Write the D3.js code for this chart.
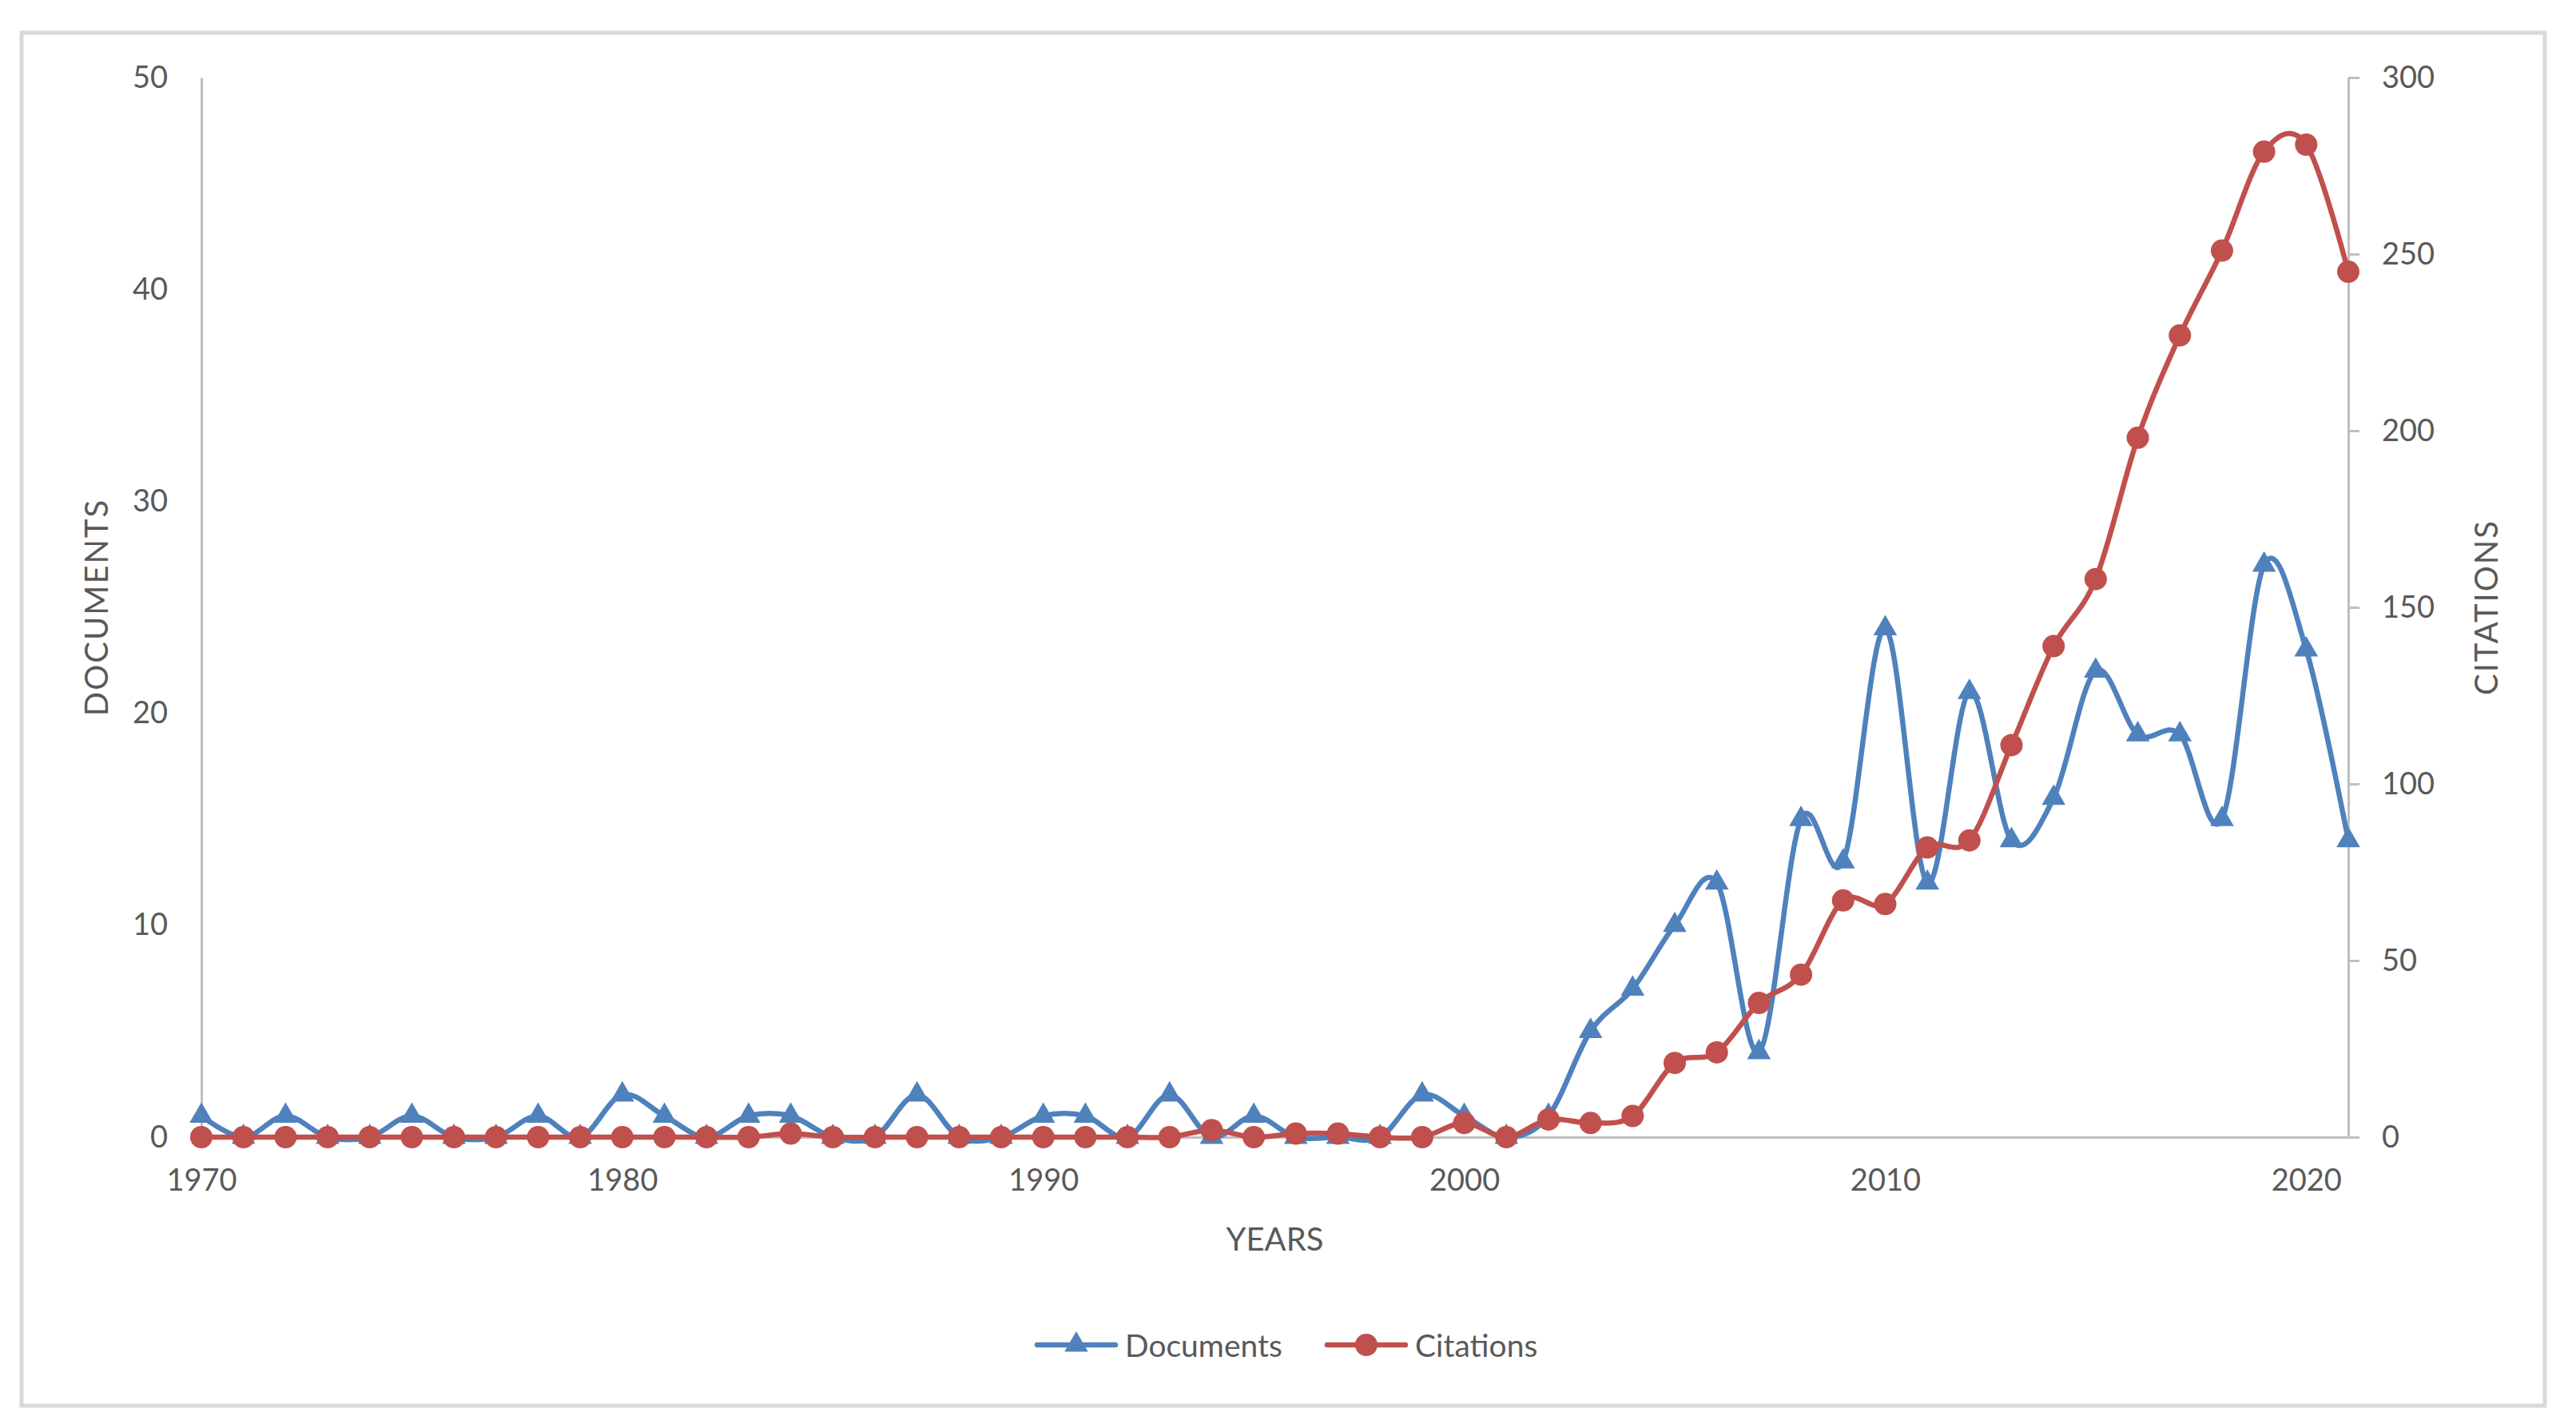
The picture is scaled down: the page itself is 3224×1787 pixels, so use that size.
<!DOCTYPE html>
<html>
<head>
<meta charset="utf-8">
<script src="https://cdn.jsdelivr.net/npm/d3@7"></script>
<style>
  body { margin: 0; background: #fff; }
  text { font-family: Lato, "Open Sans", sans-serif; fill: #595959; }
</style>
</head>
<body>
<svg id="chart" width="3224" height="1787"></svg>
<script>
// years on the x axis
const years = [1970, 1971, 1972, 1973, 1974, 1975, 1976, 1977, 1978, 1979,
               1980, 1981, 1982, 1983, 1984, 1985, 1986, 1987, 1988, 1989,
               1990, 1991, 1992, 1993, 1994, 1995, 1996, 1997, 1998, 1999,
               2000, 2001, 2002, 2003, 2004, 2005, 2006, 2007, 2008, 2009,
               2010, 2011, 2012, 2013, 2014, 2015, 2016, 2017, 2018, 2019,
               2020, 2021];

// documents per year (left axis)
const documents = [1, 0, 1, 0, 0, 1, 0, 0, 1, 0,
                   2, 1, 0, 1, 1, 0, 0, 2, 0, 0,
                   1, 1, 0, 2, 0, 1, 0, 0, 0, 2,
                   1, 0, 1, 5, 7, 10, 12, 4, 15, 13,
                   24, 12, 21, 14, 16, 22, 19, 19, 15, 27,
                   23, 14];

// citations per year (right axis)
const citations = [0, 0, 0, 0, 0, 0, 0, 0, 0, 0,
                   0, 0, 0, 0, 1, 0, 0, 0, 0, 0,
                   0, 0, 0, 0, 2, 0, 1, 1, 0, 0,
                   4, 0, 5, 4, 6, 21, 24, 38, 46, 67,
                   66, 82, 84, 111, 139, 158, 198, 227, 251, 279,
                   281, 245];

const xTicks = [1970, 1980, 1990, 2000, 2010, 2020];
const docTicks = [0, 10, 20, 30, 40, 50];
const citTicks = [0, 50, 100, 150, 200, 250, 300];

const blue = '#4F81BD';
const red = '#C0504D';
const axisGrey = '#BFBFBF';

let svg = d3.select('#chart');
let margin = { top: 97, right: 285, bottom: 364, left: 252 };
let width = 3224, height = 1787;

// outer frame
svg.append('rect')
    .attr('x', 27).attr('y', 41)
    .attr('width', 3158).attr('height', 1718)
    .attr('fill', 'white')
    .attr('stroke', '#D9D9D9')
    .attr('stroke-width', 5);

// scales
const x = d3.scaleLinear().domain([1970, 2021]).range([margin.left, width - margin.right]);
const yDoc = d3.scaleLinear().domain([0, 50]).range([height - margin.bottom, margin.top]);
const yCit = d3.scaleLinear().domain([0, 300]).range([height - margin.bottom, margin.top]);

// axes
let leftAxis = svg.append('g')
    .attr('transform', 'translate(' + margin.left + ',0)')
    .call(d3.axisLeft(yDoc).tickValues(docTicks).tickSize(0).tickPadding(42));

let rightAxis = svg.append('g')
    .attr('transform', 'translate(' + (width - margin.right) + ',0)')
    .call(d3.axisRight(yCit).tickValues(citTicks).tickSize(14).tickSizeOuter(0).tickPadding(28));

let bottomAxis = svg.append('g')
    .attr('transform', 'translate(0,' + (height - margin.bottom) + ')')
    .call(d3.axisBottom(x).tickValues(xTicks).tickFormat(d3.format('d')).tickSize(0).tickPadding(40));

[leftAxis, rightAxis, bottomAxis].forEach(a => {
    a.select('.domain').attr('stroke', axisGrey).attr('stroke-width', 3);
    a.selectAll('.tick line').attr('stroke', axisGrey).attr('stroke-width', 3);
    a.selectAll('.tick text')
        .attr('fill', '#595959')
        .style('font-size', '38px')
        .style('font-family', 'Lato, "Open Sans", sans-serif');
});

// axis titles
svg.append('text')
    .attr('transform', 'translate(120,760) rotate(-90)')
    .attr('text-anchor', 'middle')
    .attr('dominant-baseline', 'central')
    .style('font-size', '40px')
    .style('letter-spacing', '2px')
    .text('DOCUMENTS');

svg.append('text')
    .attr('transform', 'translate(3111,760) rotate(-90)')
    .attr('text-anchor', 'middle')
    .attr('dominant-baseline', 'central')
    .style('font-size', '40px')
    .style('letter-spacing', '2px')
    .text('CITATIONS');

svg.append('text')
    .attr('x', (margin.left + width - margin.right) / 2).attr('y', 1565)
    .attr('text-anchor', 'middle')
    .style('font-size', '40px')
    .text('YEARS');

// smoothed lines
const docLine = d3.line()
    .x((d, i) => x(years[i]))
    .y(d => yDoc(d))
    .curve(d3.curveCardinal.tension(0));

const citLine = d3.line()
    .x((d, i) => x(years[i]))
    .y(d => yCit(d))
    .curve(d3.curveCardinal.tension(0));

svg.append('path')
    .datum(documents)
    .attr('d', docLine)
    .attr('fill', 'none')
    .attr('stroke', blue)
    .attr('stroke-width', 6.5)
    .attr('stroke-linejoin', 'round');

svg.selectAll('.doc-marker').data(documents)
    .join('path')
    .attr('class', 'doc-marker')
    .attr('d', d3.symbol().type(d3.symbolTriangle).size(380))
    .attr('transform', (d, i) => 'translate(' + x(years[i]) + ',' + yDoc(d) + ')')
    .attr('fill', blue);

svg.append('path')
    .datum(citations)
    .attr('d', citLine)
    .attr('fill', 'none')
    .attr('stroke', red)
    .attr('stroke-width', 6.5)
    .attr('stroke-linejoin', 'round');

svg.selectAll('.cit-marker').data(citations)
    .join('circle')
    .attr('class', 'cit-marker')
    .attr('cx', (d, i) => x(years[i]))
    .attr('cy', d => yCit(d))
    .attr('r', 14)
    .attr('fill', red);

// legend
const legendItems = [
    { name: 'Documents', color: blue, shape: 'triangle', x: 1298 },
    { name: 'Citations', color: red, shape: 'circle', x: 1661 }
];
const legendY = 1683;

let legend = svg.selectAll('.legend').data(legendItems)
    .join('g')
    .attr('class', 'legend')
    .attr('transform', d => 'translate(' + d.x + ',' + legendY + ')');

legend.append('line')
    .attr('x1', 0).attr('x2', 98)
    .attr('stroke', d => d.color)
    .attr('stroke-width', 6.5)
    .attr('stroke-linecap', 'round');

legend.filter(d => d.shape === 'triangle').append('path')
    .attr('d', d3.symbol().type(d3.symbolTriangle).size(380))
    .attr('transform', 'translate(49,0)')
    .attr('fill', blue);

legend.filter(d => d.shape === 'circle').append('circle')
    .attr('cx', 49).attr('r', 14)
    .attr('fill', red);

legend.append('text')
    .attr('x', 110)
    .attr('dominant-baseline', 'central')
    .style('font-size', '39px')
    .text(d => d.name);
</script>
</body>
</html>
